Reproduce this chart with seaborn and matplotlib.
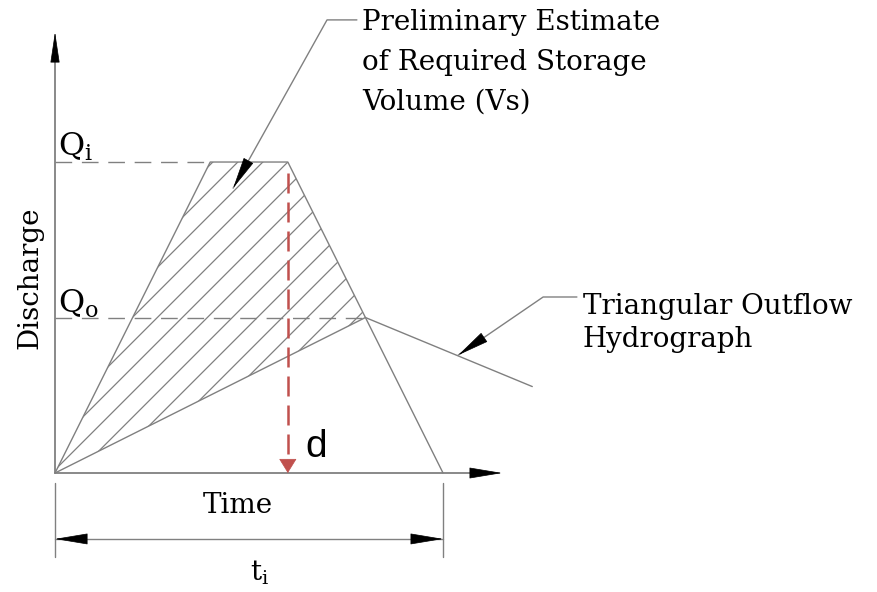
import numpy as np
import matplotlib.pyplot as plt
import seaborn as sns
from matplotlib.patches import Polygon

# hydrograph corners (time, discharge)
inflow_t = [0, 4, 6, 10]
inflow_q = [0, 10, 10, 0]
outflow_t = [0, 8, 12.3]
outflow_q = [0, 5, 2.78]
qi = 10
qo = 5
t_d = 6        # time of the red "d" arrow
d_top = 9.65

sns.set_theme(style='white')
plt.rcParams['font.family'] = ['DejaVu Serif']
plt.rcParams['mathtext.fontset'] = 'dejavuserif'

GRAY = '#808080'
RED = '#c0504d'
FS = 20

fig = plt.figure(figsize=(8.78, 5.92), dpi=100)
ax = fig.add_axes([0, 0, 1, 1])
ax.set_xlim(-1.418, 21.21)
ax.set_ylim(-3.826, 15.21)
ax.axis('off')

# pixels per data unit, used to get 45 degree hatching and arrow directions
px_t = 878 / (ax.get_xlim()[1] - ax.get_xlim()[0])
px_q = 592 / (ax.get_ylim()[1] - ax.get_ylim()[0])


def head(x, y, dx, dy, length=21, width=3.6, color='black'):
    # arrow head only, tip at (x, y), pointing along (dx, dy) in data units
    sx, sy = dx * px_t, dy * px_q
    n = np.hypot(sx, sy)
    ax.annotate('', xy=(x, y), xytext=(-sx / n * length, -sy / n * length),
                textcoords='offset points',
                arrowprops=dict(arrowstyle=f'-|>,head_length={length / 10},head_width={width / 10}',
                                color=color, lw=0.5, shrinkA=0, shrinkB=0, mutation_scale=10))


# storage volume hatching
poly_t = inflow_t[:3] + [outflow_t[1]]
poly_q = inflow_q[:3] + [outflow_q[1]]
clip = Polygon(np.column_stack([poly_t, poly_q]), closed=True, fc='none', ec='none')
ax.add_patch(clip)
m = px_t / px_q
step = 25 / px_t
tt = np.array([-2.0, 20.0])
for k in range(-30, 30):
    t0 = inflow_t[2] + k * step
    ln, = ax.plot(tt, qi + m * (tt - t0), color=GRAY, lw=0.9)
    ln.set_clip_path(clip)

# hydrographs
sns.lineplot(x=inflow_t, y=inflow_q, sort=False, color=GRAY, lw=1.0, ax=ax)
sns.lineplot(x=outflow_t, y=outflow_q, sort=False, color=GRAY, lw=1.0, ax=ax)

# Qi / Qo guide lines
ax.plot([0, inflow_t[1]], [qi, qi], color=GRAY, lw=1.0, ls=(0, (12, 7)))
ax.plot([0, outflow_t[1]], [qo, qo], color=GRAY, lw=1.0, ls=(0, (12, 7)))

# axes with arrows
ax.plot([0, 0], [0, 13.5], color=GRAY, lw=1.3)
ax.plot([0, 11.0], [0, 0], color=GRAY, lw=1.3)
head(0, 14.18, 0, 1, length=20, width=3.0)
head(11.52, 0, 1, 0, length=21.6, width=3.6)

# ti dimension
for t in [0, inflow_t[-1]]:
    ax.plot([t, t], [-0.32, -2.70], color=GRAY, lw=1.0)
ax.plot([0, inflow_t[-1]], [-2.12, -2.12], color=GRAY, lw=1.0)
head(0, -2.12, -1, 0, length=21.6, width=3.6)
head(inflow_t[-1], -2.12, 1, 0, length=21.6, width=3.6)

# red d arrow
ax.plot([t_d, t_d], [d_top, 0.45], color=RED, lw=1.8, ls=(0, (8, 3.6)))
head(t_d, 0, 0, -1, length=9.4, width=5.8, color=RED)

# leaders
lead1_t, lead1_q = [7.78, 7.01, 4.59], [14.57, 14.57, 9.16]
ax.plot(lead1_t, lead1_q, color=GRAY, lw=1.0)
head(lead1_t[-1], lead1_q[-1], lead1_t[-1] - lead1_t[-2], lead1_q[-1] - lead1_q[-2])
lead2_t, lead2_q = [13.45, 12.58, 10.39], [5.66, 5.66, 3.79]
ax.plot(lead2_t, lead2_q, color=GRAY, lw=1.0)
head(lead2_t[-1], lead2_q[-1], lead2_t[-1] - lead2_t[-2], lead2_q[-1] - lead2_q[-2])

# labels
ax.text(0.08, 10.2, r'$\mathrm{Q_i}$', fontsize=23, va='baseline', color='black')
ax.text(0.08, 5.14, r'$\mathrm{Q_o}$', fontsize=23, va='baseline', color='black')
ax.text(-0.64, 6.27, 'Discharge', rotation=90, ha='center', va='center', fontsize=FS, color='black')
ax.text(4.72, -1.03, 'Time', ha='center', va='center', fontsize=FS, color='black')
ax.text(5.28, -3.2, r'$\mathrm{t_i}$', ha='center', va='center', fontsize=FS, color='black')
ax.text(6.44, 0.51, 'd', family=['Liberation Sans', 'DejaVu Sans'], fontsize=28, va='baseline', color='black')
ax.text(7.91, 11.67, 'Preliminary Estimate\nof Required Storage\nVolume (Vs)', fontsize=FS,
        va='baseline', linespacing=1.62, color='black')
ax.text(13.6, 4.05, 'Triangular Outflow\nHydrograph', fontsize=FS, va='baseline',
        linespacing=1.3, color='black')

fig.savefig('out.png', dpi=100)
